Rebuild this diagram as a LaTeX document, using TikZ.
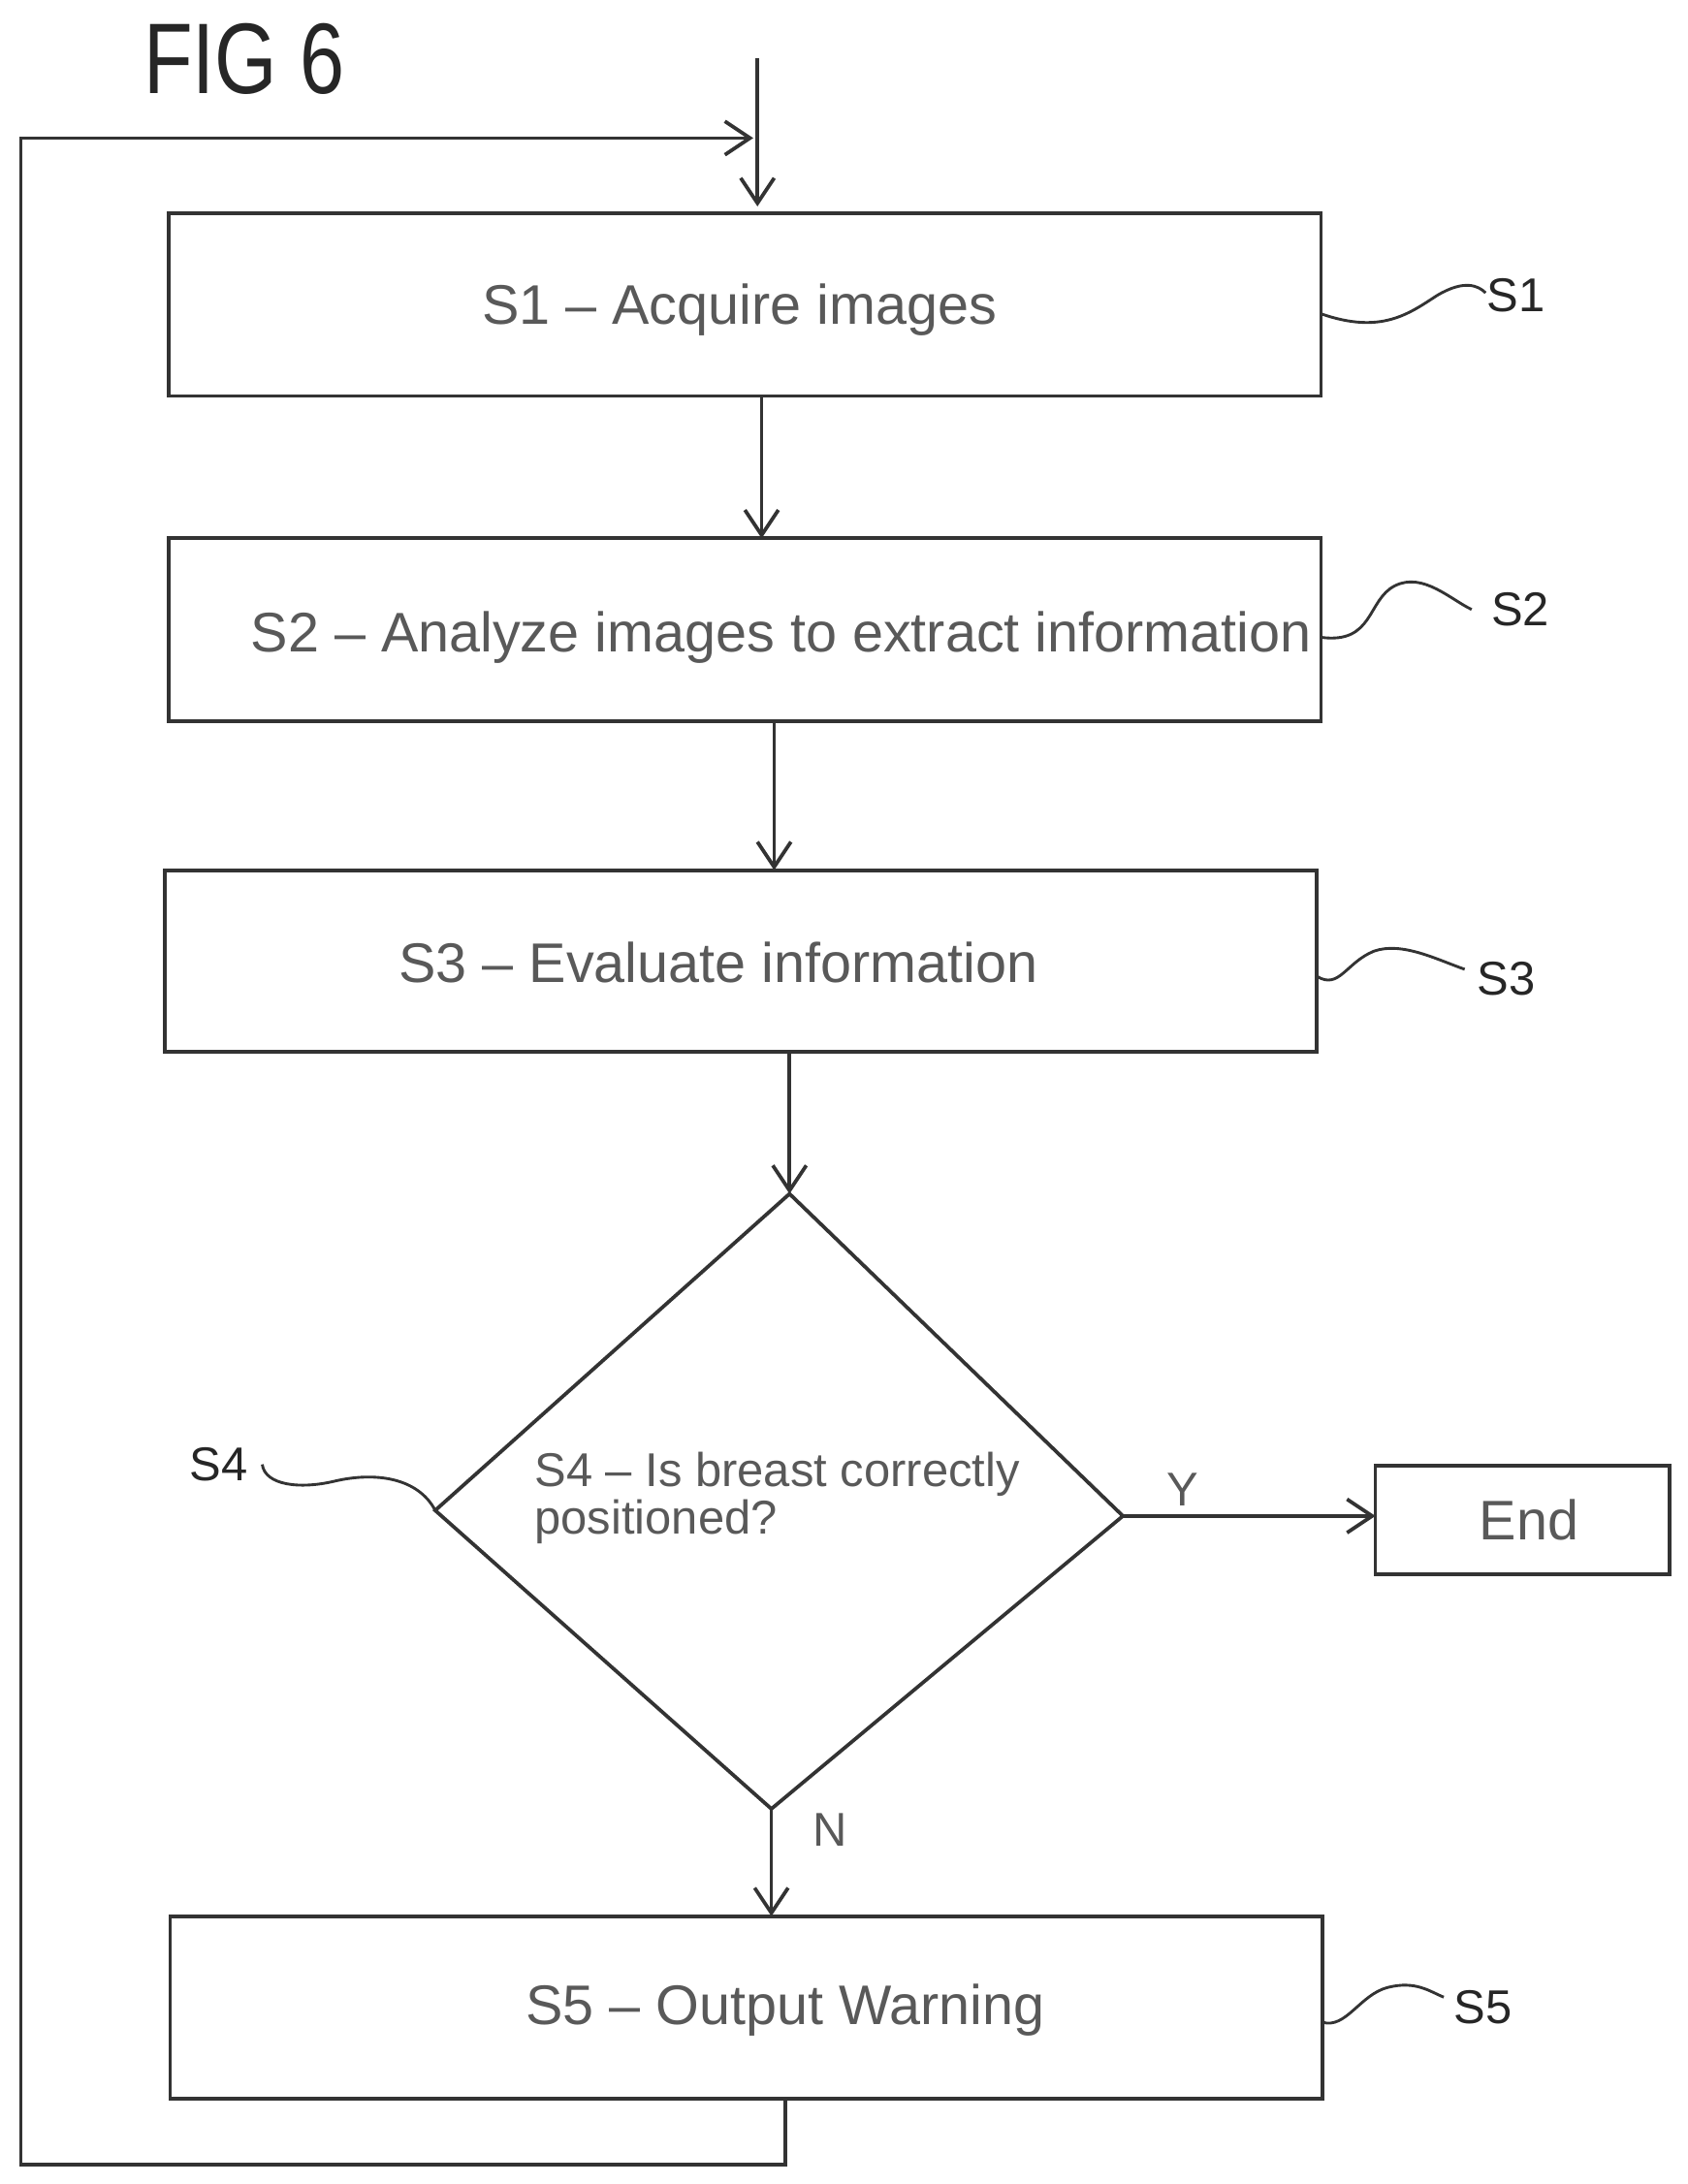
\documentclass[tikz,border=0pt]{standalone}
\usepackage{fontspec}
\setmainfont{Liberation Sans}
\usetikzlibrary{arrows.meta}
\begin{document}
\begin{tikzpicture}[x=0.5pt,y=-0.5pt,line width=1.3pt,draw=black!80,
  box/.style={draw,text=black!65,font=\fontsize{20}{24}\selectfont},
  lab/.style={text=black!85,font=\fontsize{17}{20}\selectfont},
  arr/.style={-{Straight Barb[length=9pt,width=12pt]}},
  sq/.style={line width=1pt}]
\useasboundingbox (0,0) rectangle (1210,1566);
\node[font=\fontsize{36}{40}\selectfont,xscale=0.8,text=black!85] (fig) at (175,42) {FIG 6};
% boxes
\draw[box] (121,153) rectangle (947,284);
\node[box,draw=none] (t1) at (530,222) {S1 – Acquire images};
\draw[box] (121,386) rectangle (947,517);
\node[box,draw=none] (t2) at (560,457) {S2 – Analyze images to extract information};
\draw[box] (118,624) rectangle (944,754);
\node[box,draw=none] (t3) at (515,690) {S3 – Evaluate information};
\draw[box] (122,1374) rectangle (948,1505);
\node[box,draw=none] (t5) at (563,1441) {S5 – Output Warning};
\draw[box] (986,1051) rectangle (1197,1129);
\node[box,draw=none] (tend) at (1096,1090) {End};
% diamond
\coordinate (dt) at (566,856); \coordinate (dl) at (312,1083);
\coordinate (dr) at (805,1087); \coordinate (db) at (553,1297);
\draw (dt) -- (dr) -- (db) -- (dl) -- cycle;
\node[anchor=north west,align=left,text=black!65,font=\fontsize{17}{17}\selectfont,inner sep=0pt] (t4) at (382,1040) {S4 – Is breast correctly\\positioned?};
% arrows
\coordinate (in) at (543,42);
\draw[arr] (in) -- (543,148);
\draw[arr] (546,284) -- (546,386);
\draw[arr] (555,517) -- (555,624);
\draw[arr] (566,754) -- (dt);
\draw[arr] (db) -- (553,1374);
\draw[arr] (dr) -- (986,1087);
\draw[arr] (563,1505) -- (563,1552) -- (15,1552) -- (15,99) -- (540,99);
\node[lab,text=black!65] (y) at (848,1068) {Y};
\node[lab,text=black!65] (n) at (595,1312) {N};
% reference squiggles
\draw[sq] (947,225) .. controls (990,240) and (1010,225) .. (1030,212) .. controls (1050,200) and (1060,205) .. (1065,210);
\node[lab] (l1) at (1087,212) {S1};
\draw[sq] (947,457) .. controls (985,462) and (980,430) .. (1000,420) .. controls (1020,410) and (1040,430) .. (1055,437);
\node[lab] (l2) at (1090,437) {S2};
\draw[sq] (944,700) .. controls (960,710) and (965,690) .. (985,682) .. controls (1005,675) and (1030,688) .. (1050,695);
\node[lab] (l3) at (1080,702) {S3};
\draw[sq] (188,1050) .. controls (190,1065) and (215,1068) .. (240,1062) .. controls (270,1055) and (300,1060) .. (dl);
\node[lab] (l4) at (157,1050) {S4};
\draw[sq] (948,1450) .. controls (965,1455) and (975,1430) .. (995,1425) .. controls (1015,1420) and (1025,1428) .. (1035,1432);
\node[lab] (l5) at (1063,1439) {S5};
\end{tikzpicture}
\end{document}
